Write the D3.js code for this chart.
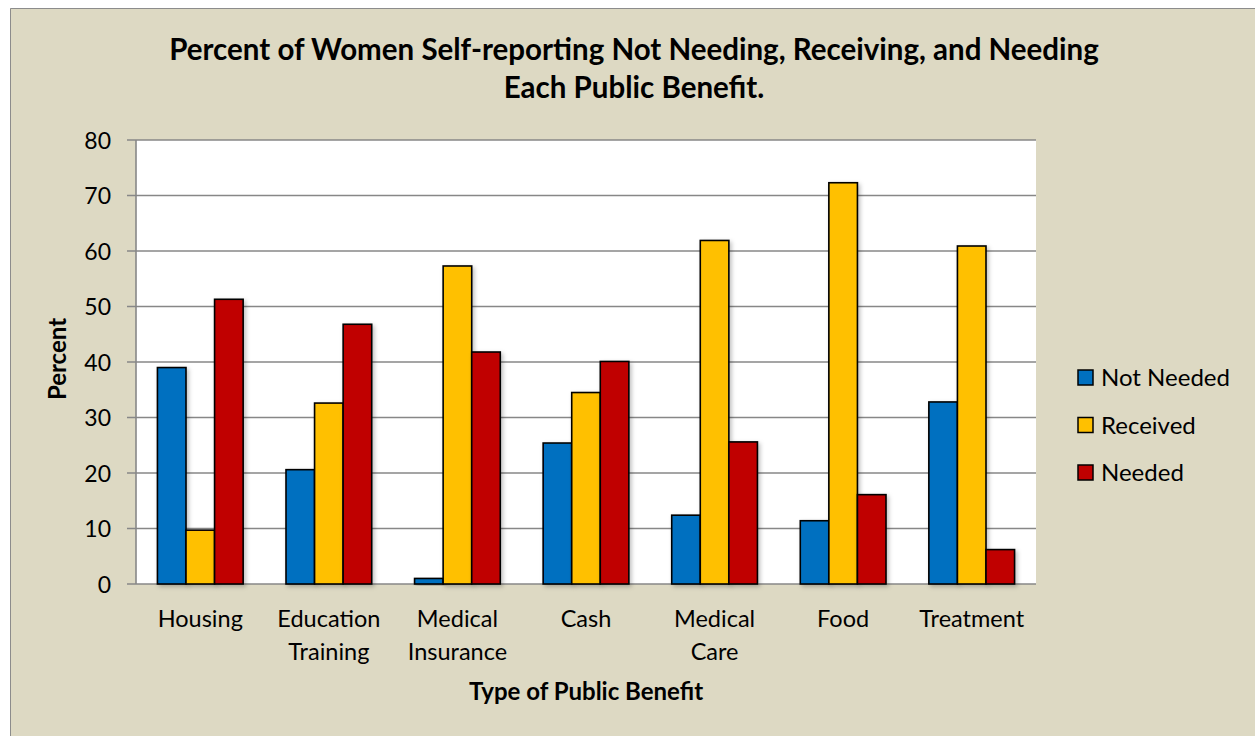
<!DOCTYPE html>
<html>
<head>
<meta charset="utf-8">
<script src="https://cdn.jsdelivr.net/npm/d3@7"></script>
<style>
  html, body { margin: 0; padding: 0; background: #fff; overflow: hidden; }
  svg { display: block; }
  text { font-family: Lato, "Open Sans", sans-serif; fill: #000; }
</style>
</head>
<body>
<div id="chart"></div>
<script>
var categories = [["Housing"], ["Education", "Training"], ["Medical", "Insurance"], ["Cash"], ["Medical", "Care"], ["Food"], ["Treatment"]];
var seriesNames = ["Not Needed", "Received", "Needed"];
var notNeeded = [39.0, 20.6, 1.0, 25.4, 12.4, 11.4, 32.8];
var received = [9.7, 32.6, 57.3, 34.5, 61.9, 72.3, 60.9];
var needed = [51.3, 46.8, 41.8, 40.1, 25.6, 16.1, 6.2];
var yTicks = [0, 10, 20, 30, 40, 50, 60, 70, 80];
var colors = ["#0070C0", "#FFC000", "#C00000"];

var width = 1255;
var height = 736;

var margin = {
  top: 140,
  right: 219,
  bottom: 152,
  left: 136,
};

var innerWidth = width - margin.left - margin.right;
var innerHeight = height - margin.top - margin.bottom;

var svg = d3.select("#chart").append("svg").attr("width", width).attr("height", height);

var defs = svg.append("defs");
var shadow = defs.append("filter").attr("id", "shadow").attr("x", "-20%").attr("y", "-20%").attr("width", "150%").attr("height", "150%");
shadow.append("feDropShadow").attr("dx", 2).attr("dy", 2).attr("stdDeviation", 2).attr("flood-color", "#000").attr("flood-opacity", 0.25);

// chart area background, border only on the visible left and top edges
svg.append("rect")
  .attr("x", 10)
  .attr("y", 8)
  .attr("width", width - 10)
  .attr("height", height - 8)
  .attr("fill", "#DDD9C3");

svg.append("path")
  .attr("d", "M10.5," + height + "V8.5H" + width)
  .attr("fill", "none")
  .attr("stroke", "#8c8c8c")
  .attr("stroke-width", 1);

var g = svg.append("g").attr("transform", "translate(" + margin.left + "," + margin.top + ")");

g.append("rect").attr("width", innerWidth).attr("height", innerHeight).attr("fill", "#fff");

var x0 = d3.scaleBand().domain(d3.range(categories.length)).range([0, innerWidth]).paddingInner(1.5 / 4.5).paddingOuter(0.75 / 4.5);
var x1 = d3.scaleBand().domain(d3.range(seriesNames.length)).range([0, x0.bandwidth()]);
var y = d3.scaleLinear().domain([0, 80]).range([innerHeight, 0]);

// gridlines
g.selectAll(".grid")
  .data(yTicks)
  .enter()
  .append("line")
  .attr("class", "grid")
  .attr("x1", -9)
  .attr("x2", innerWidth)
  .attr("y1", function (d) { return y(d); })
  .attr("y2", function (d) { return y(d); })
  .attr("stroke", "#878787")
  .attr("stroke-width", 1.6);

g.append("line")
  .attr("x1", 0)
  .attr("x2", 0)
  .attr("y1", 0)
  .attr("y2", innerHeight)
  .attr("stroke", "#878787")
  .attr("stroke-width", 1.6);

var yAxis = d3.axisLeft(y).tickValues(yTicks).tickSize(0).tickPadding(25);
var yg = g.append("g").call(yAxis);
yg.select(".domain").remove();
yg.selectAll("text").style("font-size", "23px").attr("dy", "0.35em");

var data = [notNeeded, received, needed];

var groups = g.selectAll(".cat")
  .data(categories)
  .enter()
  .append("g")
  .attr("class", "cat")
  .attr("transform", function (d, i) { return "translate(" + x0(i) + ",0)"; });

groups.selectAll("rect")
  .data(function (d, i) {
    return data.map(function (s, j) { return { s: j, v: s[i] }; });
  })
  .enter()
  .append("rect")
  .attr("x", function (d) { return x1(d.s); })
  .attr("y", function (d) { return y(d.v); })
  .attr("width", x1.bandwidth())
  .attr("height", function (d) { return innerHeight - y(d.v); })
  .attr("fill", function (d) { return colors[d.s]; })
  .attr("stroke", "#000")
  .attr("stroke-width", 1.6)
  .attr("filter", "url(#shadow)");

// category labels
groups.each(function (d) {
  var t = d3.select(this)
    .append("text")
    .attr("x", x0.bandwidth() / 2)
    .attr("y", innerHeight + 43)
    .attr("text-anchor", "middle")
    .style("font-size", "23.5px");
  d.forEach(function (line, k) {
    t.append("tspan").attr("x", x0.bandwidth() / 2).attr("dy", k === 0 ? 0 : 33).text(line);
  });
});

// axis titles
g.append("text")
  .attr("x", innerWidth / 2)
  .attr("y", innerHeight + 116)
  .attr("text-anchor", "middle")
  .style("font-size", "24px")
  .style("font-weight", "bold")
  .text("Type of Public Benefit");

g.append("text")
  .attr("transform", "translate(-70," + (innerHeight / 2 - 3) + ") rotate(-90)")
  .attr("text-anchor", "middle")
  .style("font-size", "24px")
  .style("font-weight", "bold")
  .text("Percent");

// title
svg.append("text")
  .attr("x", 634)
  .attr("y", 60)
  .attr("text-anchor", "middle")
  .style("font-size", "29.5px")
  .style("font-weight", "bold")
  .text("Percent of Women Self-reporting Not Needing, Receiving, and Needing");

svg.append("text")
  .attr("x", 634)
  .attr("y", 98)
  .attr("text-anchor", "middle")
  .style("font-size", "29.5px")
  .style("font-weight", "bold")
  .text("Each Public Benefit.");

// legend
var legend = svg.selectAll(".legend")
  .data(seriesNames)
  .enter()
  .append("g")
  .attr("class", "legend")
  .attr("transform", function (d, i) { return "translate(1078," + (378 + i * 47.5) + ")"; });

legend.append("rect")
  .attr("x", 0)
  .attr("y", -8)
  .attr("width", 15)
  .attr("height", 15)
  .attr("fill", function (d, i) { return colors[i]; })
  .attr("stroke", "#000")
  .attr("stroke-width", 1.5);

legend.append("text")
  .attr("x", 23)
  .attr("y", 0)
  .attr("dy", "0.35em")
  .style("font-size", "24px")
  .text(function (d) { return d; });
</script>
</body>
</html>
